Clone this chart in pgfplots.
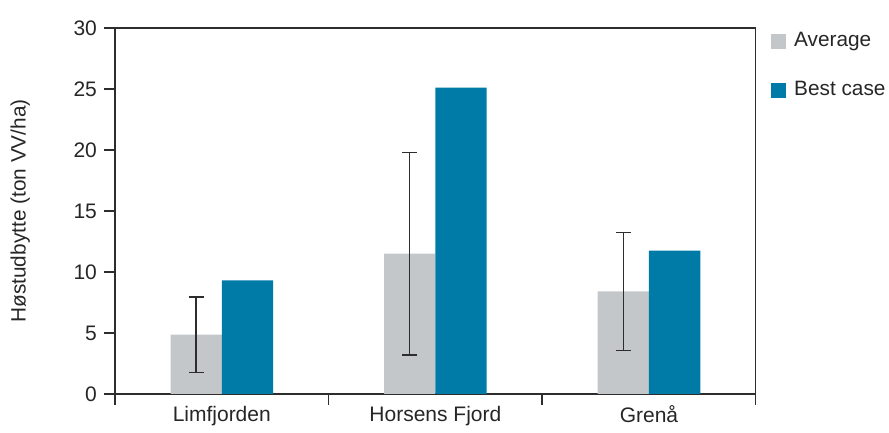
\documentclass[border=0pt]{standalone}
\usepackage{pgfplots}
\pgfplotsset{compat=1.18}
\usepackage{fontspec}
\setmainfont{Liberation Sans}
\definecolor{avggray}{RGB}{196,199,201}
\definecolor{bestblue}{RGB}{0,122,166}
\definecolor{axgray}{RGB}{45,45,45}
\begin{document}
\begin{tikzpicture}
\begin{axis}[
  name=ax,
  scale only axis,
  width=320.5pt, height=183pt,
  ybar=0pt,
  bar width=0.24,
  xmin=-0.5, xmax=2.5,
  ymin=0, ymax=30,
  ytick={0,5,...,30},
  xtick={-0.5,0.5,1.5,2.5},
  xticklabels={},
  extra x ticks={0,1,2},
  extra x tick labels={Limfjorden,Horsens Fjord,Grenå},
  extra x tick style={major tick length=0pt, xticklabel style={yshift=-2.5pt}},
  tick align=outside,
  xtick pos=bottom, ytick pos=left,
  major tick length=5.5pt,
  axis line style={draw=axgray, line width=0.7pt},
  every tick/.style={draw=axgray, line width=0.7pt},
  tick label style={font=\fontsize{10.5}{12}\selectfont, text=black!85},
  /pgf/number format/assume math mode=true,
  ylabel={Høstudbytte (ton VV/ha)},
  ylabel style={at={(axis description cs:-0.148,0.5)}, anchor=center, font=\fontsize{10.4}{12}\selectfont, text=black!85},
  legend style={at={(rel axis cs:1,1)}, anchor=north west, xshift=7.25pt, yshift=-1pt,
    draw=none, fill=none, inner sep=0pt, row sep=14pt,
    font=\fontsize{10.4}{12}\selectfont, text=black!85,
    nodes={inner xsep=1.75pt, inner ysep=1pt}},
  legend cell align=left,
  legend image code/.code={\fill[#1] (0pt,-3.75pt) rectangle (7.5pt,3.75pt); \path (10pt,0pt);},
  clip=false,
]
\addplot[fill=avggray, draw=none,
  error bars/.cd, y dir=both, y explicit,
  error bar style={line width=0.7pt, draw=axgray},
  error mark options={rotate=90, mark size=3.8pt, line width=0.7pt, draw=axgray}]
  coordinates {(0,4.85) +- (0,3.1) (1,11.5) +- (0,8.3) (2,8.4) +- (0,4.85)};
\addplot[fill=bestblue, draw=none] coordinates {(0,9.3) (1,25.1) (2,11.75)};
\legend{Average, Best case}
\end{axis}
\path ([shift={(-57.5pt,-15.5pt)}]ax.south west) rectangle ([shift={(66.5pt,14pt)}]ax.north east);
\end{tikzpicture}
\end{document}
